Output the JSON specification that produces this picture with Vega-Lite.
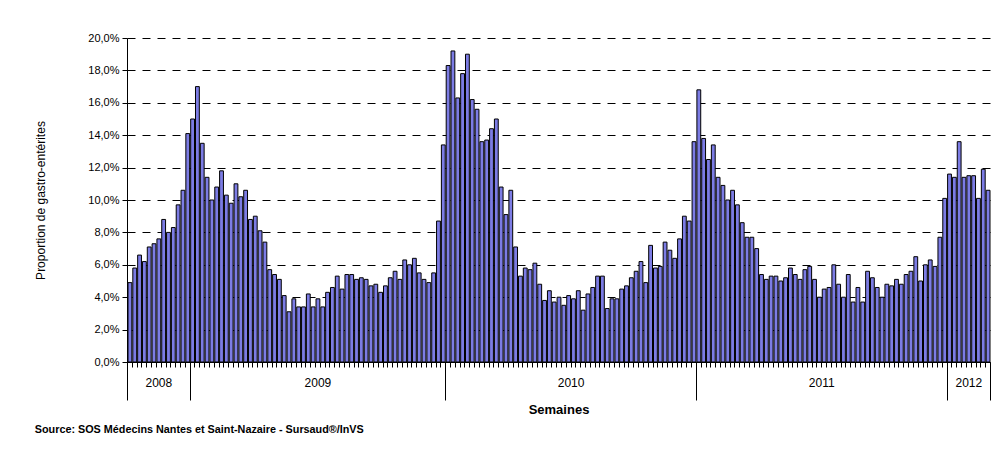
{
  "$schema": "https://vega.github.io/schema/vega-lite/v6.json",
  "width": 863,
  "height": 324,
  "autosize": {"type": "none"},
  "padding": {"left": 127, "top": 38, "right": 4, "bottom": 100},
  "background": "white",
  "config": {
    "locale": {"number": {"decimal": ",", "thousands": " ", "grouping": [3], "currency": ["", " €"]}},
    "view": {"stroke": null},
    "font": "Liberation Sans",
    "axis": {"labelFont": "Liberation Sans", "titleFont": "Liberation Sans", "labelColor": "black", "titleColor": "black", "domainColor": "black", "tickColor": "black", "domainWidth": 1, "tickWidth": 1}
  },
  "title": {"text": "Source: SOS Médecins Nantes et Saint-Nazaire - Sursaud®/InVS", "orient": "bottom", "anchor": "start", "frame": "bounds", "font": "Liberation Sans", "fontSize": 10.8, "fontWeight": "bold", "color": "black", "offset": 8},
  "data": {"values": [
    {"annee":2008,"semaine":40,"v":0.049},{"annee":2008,"semaine":41,"v":0.058},{"annee":2008,"semaine":42,"v":0.066},{"annee":2008,"semaine":43,"v":0.062},{"annee":2008,"semaine":44,"v":0.071},{"annee":2008,"semaine":45,"v":0.073},{"annee":2008,"semaine":46,"v":0.076},{"annee":2008,"semaine":47,"v":0.088},{"annee":2008,"semaine":48,"v":0.080},{"annee":2008,"semaine":49,"v":0.083},{"annee":2008,"semaine":50,"v":0.097},{"annee":2008,"semaine":51,"v":0.106},{"annee":2008,"semaine":52,"v":0.141},
    {"annee":2009,"semaine":1,"v":0.150},{"annee":2009,"semaine":2,"v":0.170},{"annee":2009,"semaine":3,"v":0.135},{"annee":2009,"semaine":4,"v":0.114},{"annee":2009,"semaine":5,"v":0.100},{"annee":2009,"semaine":6,"v":0.108},{"annee":2009,"semaine":7,"v":0.118},{"annee":2009,"semaine":8,"v":0.103},{"annee":2009,"semaine":9,"v":0.098},{"annee":2009,"semaine":10,"v":0.110},{"annee":2009,"semaine":11,"v":0.102},{"annee":2009,"semaine":12,"v":0.106},{"annee":2009,"semaine":13,"v":0.088},{"annee":2009,"semaine":14,"v":0.090},{"annee":2009,"semaine":15,"v":0.081},{"annee":2009,"semaine":16,"v":0.074},{"annee":2009,"semaine":17,"v":0.057},{"annee":2009,"semaine":18,"v":0.054},{"annee":2009,"semaine":19,"v":0.051},{"annee":2009,"semaine":20,"v":0.041},{"annee":2009,"semaine":21,"v":0.031},{"annee":2009,"semaine":22,"v":0.039},{"annee":2009,"semaine":23,"v":0.034},{"annee":2009,"semaine":24,"v":0.034},{"annee":2009,"semaine":25,"v":0.042},{"annee":2009,"semaine":26,"v":0.034},{"annee":2009,"semaine":27,"v":0.039},{"annee":2009,"semaine":28,"v":0.034},{"annee":2009,"semaine":29,"v":0.043},{"annee":2009,"semaine":30,"v":0.046},{"annee":2009,"semaine":31,"v":0.053},{"annee":2009,"semaine":32,"v":0.045},{"annee":2009,"semaine":33,"v":0.054},{"annee":2009,"semaine":34,"v":0.054},{"annee":2009,"semaine":35,"v":0.051},{"annee":2009,"semaine":36,"v":0.052},{"annee":2009,"semaine":37,"v":0.051},{"annee":2009,"semaine":38,"v":0.047},{"annee":2009,"semaine":39,"v":0.048},{"annee":2009,"semaine":40,"v":0.043},{"annee":2009,"semaine":41,"v":0.047},{"annee":2009,"semaine":42,"v":0.052},{"annee":2009,"semaine":43,"v":0.056},{"annee":2009,"semaine":44,"v":0.051},{"annee":2009,"semaine":45,"v":0.063},{"annee":2009,"semaine":46,"v":0.060},{"annee":2009,"semaine":47,"v":0.064},{"annee":2009,"semaine":48,"v":0.055},{"annee":2009,"semaine":49,"v":0.051},{"annee":2009,"semaine":50,"v":0.049},{"annee":2009,"semaine":51,"v":0.055},{"annee":2009,"semaine":52,"v":0.087},{"annee":2009,"semaine":53,"v":0.134},
    {"annee":2010,"semaine":1,"v":0.183},{"annee":2010,"semaine":2,"v":0.192},{"annee":2010,"semaine":3,"v":0.163},{"annee":2010,"semaine":4,"v":0.178},{"annee":2010,"semaine":5,"v":0.190},{"annee":2010,"semaine":6,"v":0.162},{"annee":2010,"semaine":7,"v":0.156},{"annee":2010,"semaine":8,"v":0.136},{"annee":2010,"semaine":9,"v":0.137},{"annee":2010,"semaine":10,"v":0.144},{"annee":2010,"semaine":11,"v":0.150},{"annee":2010,"semaine":12,"v":0.108},{"annee":2010,"semaine":13,"v":0.091},{"annee":2010,"semaine":14,"v":0.106},{"annee":2010,"semaine":15,"v":0.071},{"annee":2010,"semaine":16,"v":0.053},{"annee":2010,"semaine":17,"v":0.058},{"annee":2010,"semaine":18,"v":0.057},{"annee":2010,"semaine":19,"v":0.061},{"annee":2010,"semaine":20,"v":0.048},{"annee":2010,"semaine":21,"v":0.038},{"annee":2010,"semaine":22,"v":0.044},{"annee":2010,"semaine":23,"v":0.037},{"annee":2010,"semaine":24,"v":0.040},{"annee":2010,"semaine":25,"v":0.035},{"annee":2010,"semaine":26,"v":0.041},{"annee":2010,"semaine":27,"v":0.039},{"annee":2010,"semaine":28,"v":0.044},{"annee":2010,"semaine":29,"v":0.032},{"annee":2010,"semaine":30,"v":0.042},{"annee":2010,"semaine":31,"v":0.046},{"annee":2010,"semaine":32,"v":0.053},{"annee":2010,"semaine":33,"v":0.053},{"annee":2010,"semaine":34,"v":0.033},{"annee":2010,"semaine":35,"v":0.039},{"annee":2010,"semaine":36,"v":0.039},{"annee":2010,"semaine":37,"v":0.045},{"annee":2010,"semaine":38,"v":0.047},{"annee":2010,"semaine":39,"v":0.052},{"annee":2010,"semaine":40,"v":0.056},{"annee":2010,"semaine":41,"v":0.062},{"annee":2010,"semaine":42,"v":0.049},{"annee":2010,"semaine":43,"v":0.072},{"annee":2010,"semaine":44,"v":0.058},{"annee":2010,"semaine":45,"v":0.059},{"annee":2010,"semaine":46,"v":0.074},{"annee":2010,"semaine":47,"v":0.069},{"annee":2010,"semaine":48,"v":0.064},{"annee":2010,"semaine":49,"v":0.076},{"annee":2010,"semaine":50,"v":0.090},{"annee":2010,"semaine":51,"v":0.087},{"annee":2010,"semaine":52,"v":0.136},
    {"annee":2011,"semaine":1,"v":0.168},{"annee":2011,"semaine":2,"v":0.138},{"annee":2011,"semaine":3,"v":0.125},{"annee":2011,"semaine":4,"v":0.134},{"annee":2011,"semaine":5,"v":0.114},{"annee":2011,"semaine":6,"v":0.109},{"annee":2011,"semaine":7,"v":0.100},{"annee":2011,"semaine":8,"v":0.106},{"annee":2011,"semaine":9,"v":0.097},{"annee":2011,"semaine":10,"v":0.086},{"annee":2011,"semaine":11,"v":0.077},{"annee":2011,"semaine":12,"v":0.077},{"annee":2011,"semaine":13,"v":0.070},{"annee":2011,"semaine":14,"v":0.054},{"annee":2011,"semaine":15,"v":0.051},{"annee":2011,"semaine":16,"v":0.053},{"annee":2011,"semaine":17,"v":0.053},{"annee":2011,"semaine":18,"v":0.050},{"annee":2011,"semaine":19,"v":0.052},{"annee":2011,"semaine":20,"v":0.058},{"annee":2011,"semaine":21,"v":0.054},{"annee":2011,"semaine":22,"v":0.051},{"annee":2011,"semaine":23,"v":0.057},{"annee":2011,"semaine":24,"v":0.059},{"annee":2011,"semaine":25,"v":0.051},{"annee":2011,"semaine":26,"v":0.040},{"annee":2011,"semaine":27,"v":0.045},{"annee":2011,"semaine":28,"v":0.046},{"annee":2011,"semaine":29,"v":0.060},{"annee":2011,"semaine":30,"v":0.048},{"annee":2011,"semaine":31,"v":0.040},{"annee":2011,"semaine":32,"v":0.054},{"annee":2011,"semaine":33,"v":0.037},{"annee":2011,"semaine":34,"v":0.046},{"annee":2011,"semaine":35,"v":0.037},{"annee":2011,"semaine":36,"v":0.056},{"annee":2011,"semaine":37,"v":0.052},{"annee":2011,"semaine":38,"v":0.046},{"annee":2011,"semaine":39,"v":0.040},{"annee":2011,"semaine":40,"v":0.048},{"annee":2011,"semaine":41,"v":0.047},{"annee":2011,"semaine":42,"v":0.051},{"annee":2011,"semaine":43,"v":0.048},{"annee":2011,"semaine":44,"v":0.054},{"annee":2011,"semaine":45,"v":0.056},{"annee":2011,"semaine":46,"v":0.065},{"annee":2011,"semaine":47,"v":0.050},{"annee":2011,"semaine":48,"v":0.060},{"annee":2011,"semaine":49,"v":0.063},{"annee":2011,"semaine":50,"v":0.059},{"annee":2011,"semaine":51,"v":0.077},{"annee":2011,"semaine":52,"v":0.101},
    {"annee":2012,"semaine":1,"v":0.116},{"annee":2012,"semaine":2,"v":0.114},{"annee":2012,"semaine":3,"v":0.136},{"annee":2012,"semaine":4,"v":0.114},{"annee":2012,"semaine":5,"v":0.115},{"annee":2012,"semaine":6,"v":0.115},{"annee":2012,"semaine":7,"v":0.101},{"annee":2012,"semaine":8,"v":0.119},{"annee":2012,"semaine":9,"v":0.106}
  ]},
  "transform": [{"window": [{"op": "row_number", "as": "rang"}]}],
  "layer": [
    {
      "mark": {"type": "bar", "fill": "#7c7ce4", "stroke": "black", "strokeWidth": 1},
      "encoding": {
        "x": {"field": "rang", "type": "quantitative", "bin": {"binned": true, "step": 1},
              "scale": {"domain": [1, 180], "nice": false, "zero": false},
              "axis": {"orient": "bottom", "tickCount": 179, "labels": false, "tickSize": 5, "grid": false, "title": null, "domain": true}},
        "y": {"field": "v", "type": "quantitative",
              "scale": {"domain": [0, 0.2], "nice": false},
              "axis": {"values": [0, 0.02, 0.04, 0.06, 0.08, 0.1, 0.12, 0.14, 0.16, 0.18, 0.2], "format": ".1%",
                       "title": "Proportion de gastro-entérites", "titleFontSize": 12, "titleFontWeight": "normal", "titlePadding": 40,
                       "labelFontSize": 11, "labelPadding": 3, "tickSize": 5,
                       "grid": true, "gridColor": "black", "gridDash": [8, 7], "gridWidth": 1}}
      }
    },
    {
      "mark": {"type": "point", "opacity": 0},
      "encoding": {
        "x": {"field": "rang", "type": "quantitative",
              "axis": {"orient": "bottom", "values": [1, 14, 67, 119, 171, 180], "labels": false, "tickSize": 38, "domain": false, "grid": false, "title": null}}
      }
    },
    {
      "mark": {"type": "point", "opacity": 0},
      "encoding": {
        "x": {"field": "rang", "type": "quantitative",
              "axis": {"orient": "bottom", "values": [7.5, 40.5, 93, 145, 175.5],
                       "labelExpr": "datum.value < 14 ? '2008' : datum.value < 67 ? '2009' : datum.value < 119 ? '2010' : datum.value < 171 ? '2011' : '2012'",
                       "ticks": false, "tickSize": 0, "domain": false, "grid": false, "labelPadding": 15, "labelFontSize": 12,
                       "labelFlush": false, "labelOverlap": false, "labelBound": false,
                       "title": "Semaines", "titleFontSize": 13, "titleFontWeight": "bold", "titlePadding": 15}}
      }
    }
  ],
  "resolve": {"axis": {"x": "independent"}}
}
